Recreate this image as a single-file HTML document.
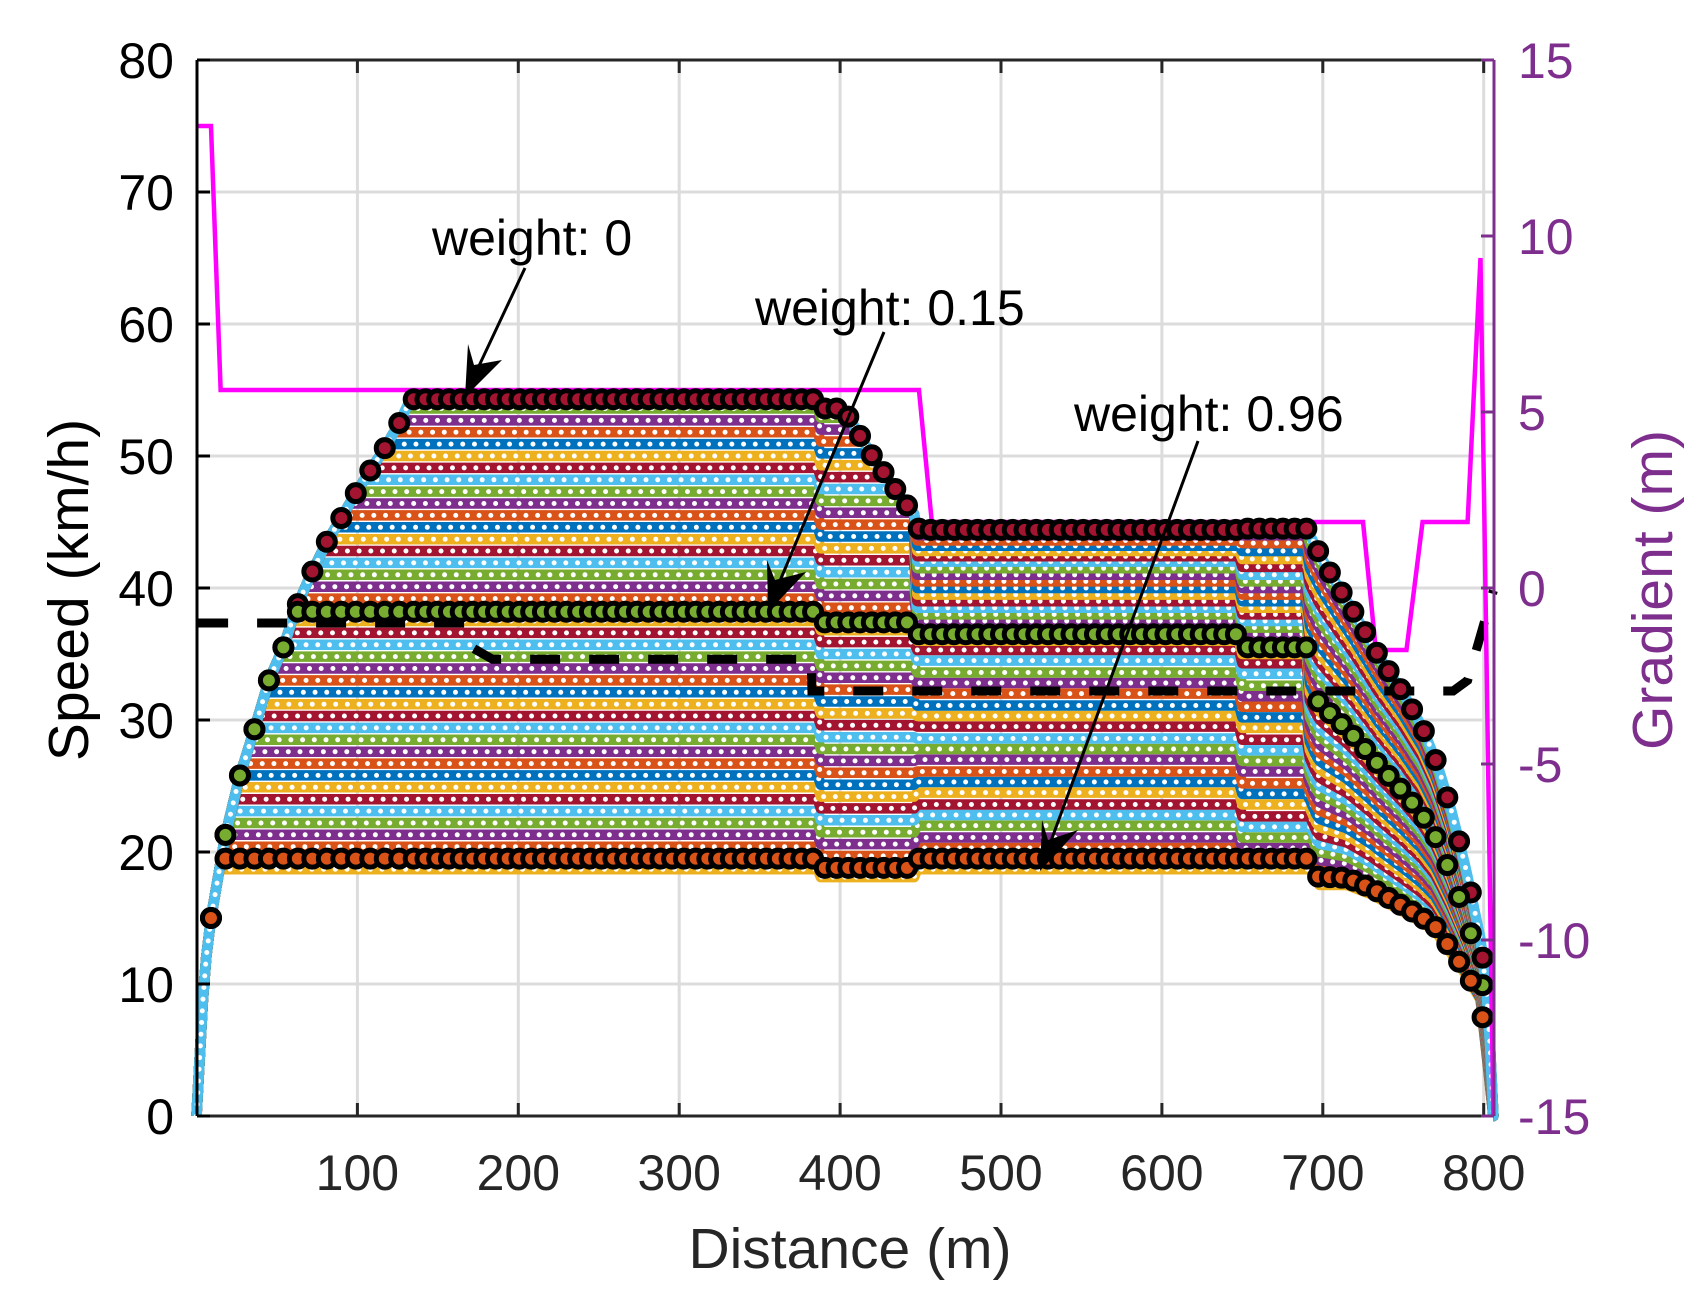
<!DOCTYPE html>
<html><head><meta charset="utf-8"><style>
html,body{margin:0;padding:0;background:#fff}
svg text{font-family:"Liberation Sans",Arial,sans-serif}
</style></head><body>
<svg id="chart" width="1699" height="1292" viewBox="0 0 1699 1292" xmlns="http://www.w3.org/2000/svg">
<rect x="0" y="0" width="1699" height="1292" fill="#fff"/>
<g id="grid"></g>
<g id="bands"></g>
<g id="overlays"></g>
<g id="marks"></g>
<g id="axes"></g>
</svg>
<script>
// ---- data ----
const xTicks=[100,200,300,400,500,600,700,800];
const yTicks=[0,10,20,30,40,50,60,70,80];
const gTicks=[-15,-10,-5,0,5,10,15];
const cruise1=[18.7,19.5,20.4,21.3,22.2,23.1,24.0,24.9,25.8,26.7,27.6,28.5,29.4,30.3,31.2,32.1,33.0,33.9,34.8,35.7,36.6,37.5,38.2,39.2,40.1,41.0,41.9,42.8,43.7,44.6,45.5,46.4,47.3,48.2,49.1,50.0,50.9,51.8,52.7,53.6,54.3];
const cruise2=[18.1,18.8,19.7,20.6,21.5,22.4,23.3,24.2,25.1,26.0,26.9,27.8,28.7,29.6,30.5,31.4,32.3,33.2,34.1,35.0,35.9,36.8,37.4,38.5,39.4,40.3,41.2,42.1,43.0,43.9,44.8,45.7,46.6,47.5,48.4,49.3,50.2,51.1,52.0,52.9,53.6];
const cruise3=[18.7,19.5,20.3,21.1,22.0,22.8,23.6,24.5,25.3,26.1,27.0,27.8,28.6,29.5,30.3,31.1,32.0,32.8,33.6,34.5,35.3,36.0,36.5,37.0,37.5,38.0,38.5,39.0,39.5,40.0,40.5,41.0,41.5,42.0,42.4,42.8,43.2,43.6,44.0,44.3,44.5];
const cruise4=[18.7,19.5,19.5,20.3,21.1,21.9,22.7,23.6,24.4,25.2,26.1,26.9,27.7,28.5,29.4,30.2,31.0,31.8,32.6,33.5,34.3,35.0,35.5,36.0,36.5,37.0,37.5,38.0,38.5,39.0,39.5,40.0,40.5,41.0,41.6,42.2,42.8,43.4,44.0,44.3,44.5];
const accelX=[0,5,9,18,27,36,45,54,62,71,81,90,98,108,117,126,133];
const accelV=[0,11,15,21.3,25.8,29.3,33,35.5,38.5,41,43.5,45.3,47,48.9,50.6,52.5,54.3];
const rampX=[395,405,420,440,450,456];
const rampV=[54.3,53,50,46.5,45,44.4];
const decUpX=[690,700,710,720,735,750,762,771,780,789,798,803,806];
const decUpV=[44.5,42.1,40,38,34.8,32,29.4,26.7,23.1,18.7,13.4,8,0];
const decLoX=[690,697,715,730,745,760,770,780,790,798,806];
const decLoV=[19.5,17.5,17.5,16.8,15.8,14.8,14,12.3,10.5,8.8,0];
const limitX=[1,9,15,449,457,725,733,752,762,790,798,806];
const limitV=[75,75,55,55,45,45,35.3,35.3,45,45,65,0];
const gradX=[1,167,171,184,382,382.5,781,790,806];
const gradV=[37.35,37.35,35.5,34.6,34.6,32.2,32.2,33,39.8];
const highlighted=[40,22,1];
const highlightFill=["#A2142F","#77AC30","#D95319"];
const palette=["#EDB120","#0072BD","#D95319","#7E2F8E","#77AC30","#4DBEEE","#A2142F"];

// ---- scales ----
const X=d=>196.5+1.609*d;
const Y=v=>1116-13.2*v;
const YG=g=>1116-(g+15)*35.2;
const NS="http://www.w3.org/2000/svg";
function el(tag,attrs,parent){const e=document.createElementNS(NS,tag);for(const k in attrs)e.setAttribute(k,attrs[k]);parent.appendChild(e);return e;}
function interp(xs,vs,x){if(x<=xs[0])return vs[0];for(let i=1;i<xs.length;i++){if(x<=xs[i]){const t=(x-xs[i-1])/(xs[i]-xs[i-1]);return vs[i-1]+t*(vs[i]-vs[i-1]);}}return vs[vs.length-1];}
function profile(i,x){
  const n=cruise1.length-1,t=i/n;
  if(x<388)return Math.min(cruise1[i],interp(accelX,accelV,x));
  if(x<448)return Math.min(cruise2[i],interp(rampX,rampV,x));
  if(x<650)return Math.min(cruise3[i],interp(rampX,rampV,x));
  if(x<692)return cruise4[i];
  const lo=interp(decLoX,decLoV,x),up=interp(decUpX,decUpV,x);
  return Math.min(cruise4[i],lo+t*(up-lo));
}
function pts(i,step){let s=[];for(let x=0;x<=806;x+=step){s.push(X(x).toFixed(1)+","+Y(profile(i,x)).toFixed(1));}s.push(X(806)+","+Y(0));return s.join(" ");}

// grid
const grid=document.getElementById('grid');
xTicks.forEach(d=>{const l=el('line',{x1:X(d),x2:X(d),y1:60,y2:1116,stroke:'#dcdcdc','stroke-width':3},grid);

});
yTicks.slice(1,-1).forEach(v=>{const l=el('line',{x1:197,x2:1494,y1:Y(v),y2:Y(v),stroke:'#dcdcdc','stroke-width':3},grid);

});

// bands
const bands=document.getElementById('bands');
for(let i=0;i<cruise1.length;i++){
  const p=pts(i,2);
  const l=el('polyline',{points:p,fill:'none',stroke:palette[i%7],'stroke-width':10.5,'stroke-linejoin':'round'},bands);
  
  
  const d=el('polyline',{points:p,fill:'none',stroke:'#fff','stroke-width':5,'stroke-dasharray':'0 11.7','stroke-linecap':'round'},bands);
  
  
}

// overlays
const ov=document.getElementById('overlays');
const gp=gradX.map((x,k)=>X(x)+","+Y(gradV[k])).join(" ");
const gl=el('polyline',{points:gp,fill:'none',stroke:'#000','stroke-width':9,'stroke-dasharray':'30 29'},ov);


const lp=limitX.map((x,k)=>X(x)+","+Y(limitV[k])).join(" ");
const ll=el('polyline',{points:lp,fill:'none',stroke:'#ff00ff','stroke-width':4.5},ov);



// highlighted markers
const mk=document.getElementById('marks');
highlighted.forEach((i,h)=>{
  for(let x=9;x<=806;x+=(x<133?9:7.3)){
    const c=el('circle',{cx:X(x),cy:Y(profile(i,x)),r:8.5,fill:highlightFill[h],stroke:'#000','stroke-width':5},mk);
    
    
  }
});

// axes
const ax=document.getElementById('axes');
el('line',{x1:197,x2:1494,y1:60,y2:60,stroke:'#262626','stroke-width':3},ax);
el('line',{x1:197,x2:1494,y1:1116,y2:1116,stroke:'#262626','stroke-width':3},ax);
el('line',{x1:197,x2:197,y1:60,y2:1116,stroke:'#000','stroke-width':3},ax);
el('line',{x1:1494,x2:1494,y1:60,y2:1116,stroke:'#7E2F8E','stroke-width':3},ax);
xTicks.forEach(d=>{
  el('line',{x1:X(d),x2:X(d),y1:1116,y2:1103,stroke:'#262626','stroke-width':3},ax);
  el('line',{x1:X(d),x2:X(d),y1:60,y2:73,stroke:'#262626','stroke-width':3},ax);
  const t=el('text',{x:X(d),y:1190,'font-size':50,'text-anchor':'middle',fill:'#262626'},ax);t.textContent=d;
  
  
});
yTicks.forEach(v=>{
  el('line',{x1:197,x2:210,y1:Y(v),y2:Y(v),stroke:'#000','stroke-width':3},ax);
  const t=el('text',{x:174,y:Y(v)+18,'font-size':50,'text-anchor':'end',fill:'#000'},ax);t.textContent=v;
  
  
});
gTicks.forEach(g=>{
  el('line',{x1:1481,x2:1494,y1:YG(g),y2:YG(g),stroke:'#7E2F8E','stroke-width':3},ax);
  const t=el('text',{x:1518,y:YG(g)+18,'font-size':50,fill:'#7E2F8E'},ax);t.textContent=g;
  
  
});
</script>
<svg style="position:absolute;left:0;top:0" width="1699" height="1292">
<text x="850" y="1268" font-size="57" text-anchor="middle" fill="#262626" font-family="Liberation Sans, sans-serif">Distance (m)</text>
<text transform="translate(88,590) rotate(-90)" font-size="57" text-anchor="middle" fill="#000" font-family="Liberation Sans, sans-serif">Speed (km/h)</text>
<text transform="translate(1672,590) rotate(-90)" font-size="57" text-anchor="middle" fill="#7E2F8E" font-family="Liberation Sans, sans-serif">Gradient (m)</text>
<g>
<text x="432" y="255" font-size="50" fill="#000" font-family="Liberation Sans, sans-serif">weight: 0</text>
<line x1="525" y1="268" x2="470" y2="385" stroke="#000" stroke-width="3"/>
<polygon points="465,397 468,344 474,365 502,360" fill="#000"/>
</g>
<g>
<text x="755" y="325" font-size="50" fill="#000" font-family="Liberation Sans, sans-serif">weight: 0.15</text>
<line x1="884" y1="332" x2="772" y2="600" stroke="#000" stroke-width="3"/>
<polygon points="768,612 767,560 775,580 806,572" fill="#000"/>
</g>
<g>
<text x="1074" y="431" font-size="50" fill="#000" font-family="Liberation Sans, sans-serif">weight: 0.96</text>
<line x1="1198" y1="441" x2="1044" y2="860" stroke="#000" stroke-width="3"/>
<polygon points="1040,871 1042,820 1048,840 1078,830" fill="#000"/>
</g>
</svg>
</body></html>
